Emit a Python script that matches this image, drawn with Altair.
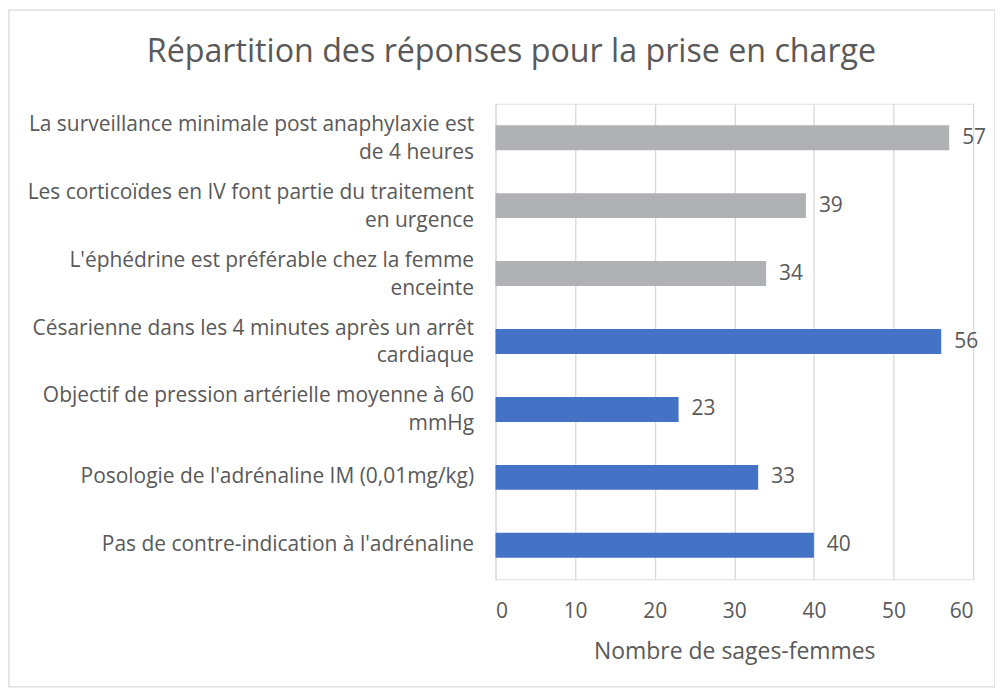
import altair as alt
import pandas as pd

categories = [
    "La surveillance minimale post anaphylaxie est|de 4 heures",
    "Les corticoïdes en IV font partie du traitement|en urgence",
    "L'éphédrine est préférable chez la femme|enceinte",
    "Césarienne dans les 4 minutes après un arrêt|cardiaque",
    "Objectif de pression artérielle moyenne à 60|mmHg",
    "Posologie de l'adrénaline IM (0,01mg/kg)",
    "Pas de contre-indication à l'adrénaline",
]
values = [57, 39, 34, 56, 23, 33, 40]
groups = ["faux", "faux", "faux", "vrai", "vrai", "vrai", "vrai"]
x_ticks = [0, 10, 20, 30, 40, 50, 60]
title_text = ["Répartition des réponses pour la prise en charge"]

df = pd.DataFrame({"cat": categories, "val": values, "grp": groups})

FONT = "Open Sans"
TXT = "#595959"

y_enc = alt.Y(
    "cat:N",
    sort=categories,
    title=None,
    axis=alt.Axis(
        labelExpr="split(datum.label, '|')",
        labelFontSize=21,
        labelColor=TXT,
        labelFont=FONT,
        labelLineHeight=28,
        labelPadding=22,
        labelLimit=520,
        labelOffset={
            "condition": {"test": "indexof(datum.label, '|') >= 0", "value": -13},
            "value": 0,
        },
        ticks=False,
        domain=False,
        grid=False,
    ),
    scale=alt.Scale(paddingInner=0.63, paddingOuter=0.315),
)
x_enc = alt.X(
    "val:Q",
    title="Nombre de sages-femmes",
    scale=alt.Scale(domain=[0, 60], nice=False),
    axis=alt.Axis(
        values=x_ticks,
        labelFontSize=21,
        labelColor=TXT,
        labelFont=FONT,
        labelPadding=21,
        titleFontSize=23,
        titleColor=TXT,
        titleFont=FONT,
        titleFontWeight="normal",
        titlePadding=19,
        ticks=False,
        domain=False,
        grid=True,
        gridColor="#D9D9D9",
        gridWidth=1.3,
    ),
)

bars = alt.Chart(df).mark_bar(size=25).encode(
    x=x_enc,
    y=y_enc,
    color=alt.Color(
        "grp:N",
        scale=alt.Scale(domain=["faux", "vrai"], range=["#B0B1B4", "#4472C4"]),
        legend=None,
    ),
)

labels = alt.Chart(df).mark_text(
    align="left", baseline="middle", dx=13, fontSize=21, color=TXT, font=FONT
).encode(
    x=alt.X("val:Q"),
    y=alt.Y("cat:N", sort=categories),
    text=alt.Text("val:Q"),
)

title = alt.Chart(pd.DataFrame({"t": title_text})).mark_text(
    align="center", baseline="alphabetic", fontSize=32.3, color=TXT, font=FONT
).encode(
    x=alt.value(16),
    y=alt.value(-42),
    text="t:N",
)

frame = alt.Chart(pd.DataFrame({"d": [0]})).mark_rect(
    fill=None, stroke="#D9D9D9", strokeWidth=1.3, clip=False
).encode(
    x=alt.value(-488),
    x2=alt.value(501),
    y=alt.value(-94),
    y2=alt.value(585),
)

chart = alt.layer(frame, bars, labels, title).properties(
    width=479,
    height=477,
    autosize=alt.AutoSizeParams(type="none"),
    padding={"left": 489, "top": 95, "right": 22, "bottom": 110},
).configure_view(stroke=None).configure(background="white")

chart.save("out.html", embed_options={"renderer": "svg", "actions": False})
